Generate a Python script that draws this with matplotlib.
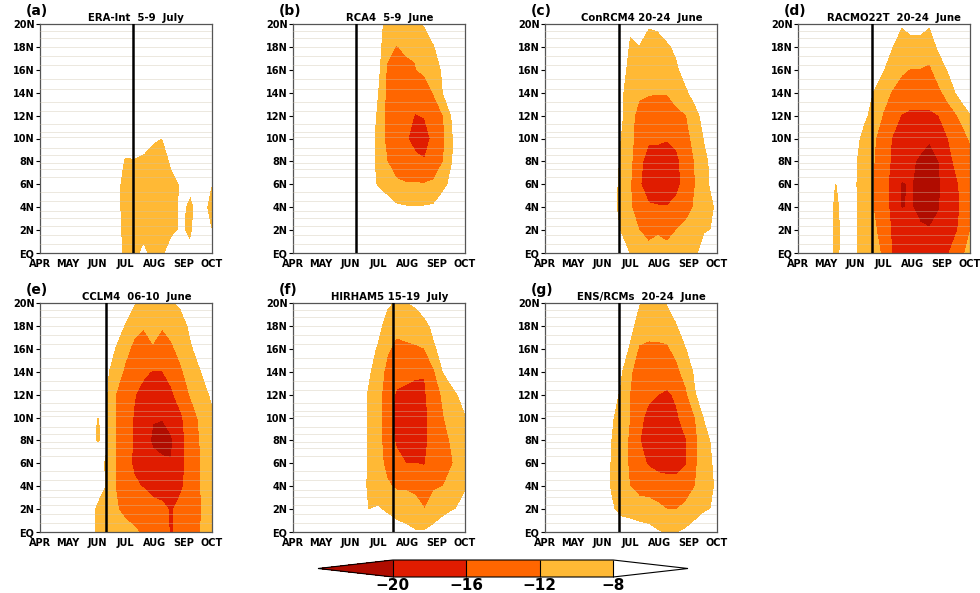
import numpy as np
import matplotlib
matplotlib.use("Agg")
import matplotlib.pyplot as plt
from matplotlib.colors import ListedColormap, BoundaryNorm

# grade: dias desde 1 de abril x latitude (20N -> EQ)
DIAS = [0, 30, 40, 50, 60, 70, 80, 90, 100, 110, 120, 130, 140, 150, 160, 170, 183]
LATS = [20, 18, 16, 14, 12, 10, 8, 6, 4, 2, 0]

meses = ["APR", "MAY", "JUN", "JUL", "AUG", "SEP", "OCT"]
dias_meses = [0, 30, 61, 91, 122, 153, 183]
lat_ticks = [0, 2, 4, 6, 8, 10, 12, 14, 16, 18, 20]
lat_labels = ["EQ", "2N", "4N", "6N", "8N", "10N", "12N", "14N", "16N", "18N", "20N"]

letras = ["(a)", "(b)", "(c)", "(d)", "(e)", "(f)", "(g)"]
titulos = ["ERA-Int  5-9  July", "RCA4  5-9  June", "ConRCM4 20-24  June",
           "RACMO22T  20-24  June", "CCLM4  06-10  June", "HIRHAM5 15-19  July",
           "ENS/RCMs  20-24  June"]
onset = [99, 67, 79, 79, 70, 106, 79]  # linha vertical (dia)

era_int = [
    [-2, -2, -2, -2, -2, -2, -3, -3, -3, -3, -3, -3, -3, -3, -3, -3, -3],
    [-2, -2, -2, -2, -2, -2, -3, -3, -3, -3, -3, -3, -3, -3, -3, -3, -3],
    [-2, -2, -2, -2, -2, -3, -3, -3, -3, -3, -3, -3, -3, -3, -3, -3, -3],
    [-2, -2, -2, -3, -3, -3, -3, -4, -4, -4, -4, -4, -4, -3, -3, -3, -3],
    [-2, -2, -3, -3, -3, -3, -4, -5, -5, -5, -6, -6, -5, -4, -4, -3, -3],
    [-3, -3, -3, -3, -3, -4, -4, -6, -6, -7, -7.6, -8.1, -6.5, -5, -4, -4, -4],
    [-3, -3, -3, -3, -4, -4, -5, -8.5, -8.3, -8.5, -9.5, -10, -7.5, -6, -5, -5, -5],
    [-3, -3, -3, -3, -4, -5, -6, -10, -10, -10, -10.5, -10.5, -9, -7.8, -7.5, -6, -8.1],
    [-3, -3, -3, -4, -4, -5, -6, -10, -11, -11, -11, -10, -9.5, -7.5, -8.6, -7, -8.8],
    [-3, -3, -3, -4, -4, -5, -6, -9.5, -10, -9, -10, -9.5, -8.5, -7.8, -8.4, -6.5, -8.1],
    [-3, -3, -3, -4, -4, -5, -5.5, -9, -9, -7.5, -9, -8.5, -7, -7.5, -7.6, -6, -6],
]
rca4 = [
    [-2, -2, -2, -2, -3, -3, -4, -7, -9, -9.5, -9.5, -9, -7.8, -6, -4, -3, -3],
    [-2, -2, -2, -3, -3, -3, -4, -6.5, -11, -12.2, -11.5, -11.8, -10, -8.3, -6, -4, -3],
    [-2, -2, -3, -3, -3, -4, -5, -7, -12.5, -13, -12.8, -12.1, -11.5, -9.5, -7.6, -5, -4],
    [-2, -2, -3, -3, -3, -4, -5, -8, -13, -13.5, -13.5, -14, -13.5, -11.8, -8, -6, -4],
    [-2, -3, -3, -3, -4, -4, -5, -8.8, -13, -14, -15, -16.2, -15.8, -14, -12, -7.5, -5],
    [-3, -3, -3, -3, -4, -4, -5.5, -9.5, -13, -14.5, -15.5, -17.5, -17.5, -15, -12.8, -8.2, -5],
    [-3, -3, -3, -3, -4, -4, -5.5, -9.5, -12, -13.5, -14.5, -15, -15.8, -14, -12, -8, -5],
    [-3, -3, -3, -3, -4, -4, -5.5, -8.5, -10, -11.5, -11.8, -11.8, -11.8, -11.5, -9, -7, -5],
    [-3, -3, -3, -3, -3, -4, -4, -5, -6, -7.5, -7.8, -7.8, -7.8, -7.5, -6, -5, -4],
    [-2, -2, -3, -3, -3, -3, -4, -4, -5, -5, -5, -5, -5, -5, -4, -4, -3],
    [-2, -2, -2, -3, -3, -3, -3, -4, -4, -4, -4, -4, -4, -4, -3, -3, -3],
]
conrcm4 = [
    [-2, -2, -2, -3, -3, -3, -4, -7.5, -6.5, -7.8, -7.6, -6.5, -5, -4, -3, -3, -3],
    [-2, -2, -3, -3, -3, -4, -5, -8.5, -8.2, -9, -9, -8.5, -7.5, -6, -4, -3, -3],
    [-2, -2, -3, -3, -3, -4, -6, -9.5, -10, -10.5, -10.5, -10, -8.5, -7, -5.5, -4, -3],
    [-2, -3, -3, -3, -4, -4, -6.5, -11.8, -11.5, -11.8, -11.9, -11.9, -10.5, -8.5, -7, -6, -4],
    [-3, -3, -3, -3, -4, -5, -7, -11, -13, -13.5, -13.5, -13.5, -13, -12.2, -9, -7, -5.5],
    [-3, -3, -3, -4, -4, -5.5, -8, -11, -13.5, -15.5, -15.5, -15.8, -15, -13, -11, -7.8, -6],
    [-3, -3, -3, -4, -4, -6, -8.5, -11, -15, -17.5, -17.5, -18, -17, -14, -11.8, -9, -6],
    [-3, -3, -3, -4, -4, -6, -9, -11.5, -15.5, -18, -18, -18, -17, -14.5, -12, -9, -6.5],
    [-3, -3, -3, -4, -4, -6.5, -9, -11.5, -14, -15.5, -15.8, -15.9, -15, -13.5, -11.5, -10, -7.5],
    [-3, -3, -3, -4, -4, -6.5, -8.2, -10.5, -12, -13, -12.5, -13, -12, -11, -10, -8.2, -7.8],
    [-3, -3, -3, -3, -4, -5, -6, -8.2, -9.5, -11, -10.5, -11, -10, -9, -8.5, -7, -6],
]
racmo22t = [
    [-2, -2, -2, -3, -3, -3, -4, -5, -6.5, -7.8, -7.2, -7, -7.8, -6, -5, -4, -3],
    [-2, -2, -3, -3, -3, -4, -5, -6.5, -8, -9.5, -9, -9.2, -10, -7.5, -6, -5, -4],
    [-2, -3, -3, -3, -4, -5, -6, -7.8, -10, -11.5, -12.2, -12.2, -12.8, -10, -7.8, -6, -5],
    [-3, -3, -3, -4, -4, -6, -8.3, -10.5, -12.3, -13.5, -14, -14, -14, -13, -10.5, -7.5, -6],
    [-3, -3, -4, -4, -5.5, -7.5, -9, -12.2, -14, -16.2, -16.8, -16.8, -16.8, -16, -14, -12, -8.3],
    [-3, -3, -4, -5, -7, -9, -11.5, -13.5, -16.2, -17.5, -18, -19, -19.8, -18, -16, -13.5, -11.8],
    [-3, -4, -5, -5, -7.5, -10, -11.8, -14, -16.5, -18.5, -19.5, -20.5, -21, -20, -17, -15, -13],
    [-3, -5, -8.4, -6, -7.5, -10.5, -12, -14.5, -17, -20.3, -19.8, -21, -21.5, -20.5, -17.5, -16.2, -13.5],
    [-3, -5, -9.5, -6, -7.5, -10, -12, -14, -17, -20.2, -19.7, -21, -21.5, -20.2, -17.5, -16.5, -13.5],
    [-3, -5, -9.5, -6.5, -7.5, -10, -11.5, -13, -16.5, -18, -19, -19.5, -19.8, -19, -17, -16, -12.2],
    [-3, -5, -9.3, -6.5, -7.5, -9.5, -10.5, -12.5, -16.2, -17, -16.5, -17, -17.5, -16.5, -16.2, -14, -10.5],
]
cclm4 = [
    [-2, -2, -2, -3, -3, -4, -4, -6, -7.8, -8.5, -8.5, -8.5, -8.3, -7.5, -5.5, -4, -3],
    [-2, -2, -3, -3, -3, -4, -6.5, -8.2, -11, -11.8, -11, -11.8, -11, -9.5, -7.5, -6, -4],
    [-2, -3, -3, -3, -4, -6, -8.2, -11, -12.8, -13.5, -12.3, -13.5, -12.5, -11, -8.5, -7, -6],
    [-3, -3, -3, -4, -5, -7.3, -10, -12.5, -14, -15.5, -16.2, -16.1, -15, -12.5, -10.5, -8.3, -6.5],
    [-3, -3, -4, -4, -5.5, -7.5, -12, -14, -15.8, -17, -18, -18, -16.5, -14.5, -11.8, -10, -7.5],
    [-3, -3, -4, -5, -8.1, -7.8, -12, -14.5, -16.2, -18, -19.8, -19.9, -19, -16.5, -14, -11.5, -9],
    [-3, -3, -4, -5, -8.2, -7.8, -12, -14.5, -16.3, -18.5, -20.5, -21, -20.3, -17, -14.5, -12, -9.5],
    [-3, -3, -4, -5, -7, -8.3, -12, -14.5, -16.5, -18, -19, -19.5, -19.9, -17, -14.5, -12.2, -9.5],
    [-3, -3, -4, -5, -6.5, -8.2, -12, -14, -15.5, -16.2, -17, -17, -17.5, -16.5, -14.5, -12.2, -9.5],
    [-3, -3, -4, -6, -8.5, -9, -11.5, -13, -13.5, -14, -15, -15.5, -16.3, -15, -13.5, -12.5, -9],
    [-3, -3, -4, -6, -8.5, -8.5, -9.5, -10.5, -11.5, -12.5, -13, -14.5, -16.5, -14, -12.5, -12.2, -9],
]
hirham5 = [
    [-2, -2, -2, -3, -3, -3, -4, -6, -7.5, -8.5, -8.2, -7.6, -6.5, -5, -4, -3, -3],
    [-2, -2, -3, -3, -3, -4, -5.5, -7, -9.5, -11, -11, -10, -9, -7.3, -6, -4, -3],
    [-2, -2, -3, -3, -4, -5, -6.5, -8.5, -11.5, -13, -12.5, -12.5, -12.1, -8.5, -7, -5, -4],
    [-2, -3, -3, -3, -4, -5.5, -7.5, -10, -13, -14.5, -15, -15.5, -15.8, -12.5, -8, -6.5, -5],
    [-3, -3, -3, -4, -4, -6, -8.5, -10.5, -14, -16.5, -16.8, -17, -16.5, -13.5, -11.5, -8.8, -7],
    [-3, -3, -3, -4, -4, -6, -8.5, -10.5, -14.5, -17, -17.5, -17.5, -17, -14, -12.2, -10, -8.3],
    [-3, -3, -3, -4, -4, -6, -8.5, -10.5, -14, -16.5, -17, -17, -17, -14, -13, -11.5, -8.5],
    [-3, -3, -3, -4, -4, -6, -8.5, -10.5, -13, -15, -16, -16, -16.2, -13.5, -12.5, -12.1, -8.8],
    [-3, -3, -3, -4, -4, -6.5, -8.5, -9.5, -11.5, -12.5, -12.5, -13, -14, -12.5, -12, -10, -8.2],
    [-3, -3, -3, -4, -4, -6, -8.1, -7.8, -8.5, -9.5, -10, -10.5, -12, -10, -9, -8.2, -7.5],
    [-2, -3, -3, -3, -4, -5, -5, -5.5, -6, -6.5, -7, -7.8, -7.8, -7, -6, -5, -5],
]
ens_rcms = [
    [-2, -2, -2, -3, -3, -3, -4, -6, -7.9, -8.5, -7.9, -7.9, -6.5, -5, -4, -3, -3],
    [-2, -2, -3, -3, -3, -4, -5.5, -7, -9.5, -10.5, -10.3, -10.3, -8.3, -6.5, -5, -4, -3],
    [-2, -3, -3, -3, -4, -5, -6, -8.5, -12.5, -12.8, -12.8, -12.5, -11, -8.2, -6.5, -5, -4],
    [-2, -3, -3, -4, -4, -6, -7.5, -11.5, -13.5, -14, -14.5, -14.5, -13, -10.5, -7.5, -6, -5],
    [-3, -3, -3, -4, -5, -6.5, -8.5, -12, -14, -15.3, -16, -16.5, -15.5, -12.8, -8.3, -6.5, -5],
    [-3, -3, -4, -4, -5.5, -7.5, -9.5, -12, -15, -17, -17.5, -17.5, -16.5, -14.5, -12, -7.8, -6],
    [-3, -3, -4, -4, -6, -8, -10, -12.5, -15.8, -17.5, -18, -18, -17.5, -16.2, -12.8, -9.5, -6.5],
    [-3, -3, -4, -4, -6, -8.2, -10, -12.5, -15, -16.3, -17, -17, -17, -16.2, -12.5, -10, -7],
    [-3, -3, -4, -4, -6, -8.3, -10, -12, -13.5, -14, -14.5, -15, -15, -14, -12, -10, -7.5],
    [-3, -3, -3, -4, -5.5, -7.5, -9, -9.5, -10, -10, -11, -12.1, -12.1, -11, -10, -8.5, -7.5],
    [-2, -3, -3, -3, -4, -5, -6, -6, -6.5, -7, -7.8, -8.5, -8.2, -7.5, -6, -5, -5],
]
campos = [era_int, rca4, conrcm4, racmo22t, cclm4, hirham5, ens_rcms]

niveis = [-20, -16, -12, -8]
cmap = ListedColormap(["#e01c00", "#ff6600", "#ffb935"])
cmap.set_under("#b00c00")
cmap.set_over("white")
norm = BoundaryNorm(niveis, cmap.N)

# linhas horizontais claras da grade original
linhas_lat = [0.8, 1.6, 2.4, 3.1, 3.7, 4.5, 5.3, 6.6, 7.3, 7.9, 8.6, 9.2, 10.1, 10.6,
              11.3, 12.4, 13.2, 14.3, 15.2, 16.4, 17.2, 18.0, 18.8, 19.4]

fig = plt.figure(figsize=(9.8, 5.93), dpi=100)
W, H = 980, 593
posicoes = [(40, 24), (293, 24), (545, 24), (798, 24), (40, 303), (293, 303), (545, 303)]
largura, altura = 172, 229

for i in range(7):
    x0, y0 = posicoes[i]
    ax = fig.add_axes([x0 / W, 1 - (y0 + altura) / H, largura / W, altura / H])
    cs = ax.contourf(DIAS, LATS, np.array(campos[i]), levels=niveis, cmap=cmap,
                     norm=norm, extend="both")
    for lt in linhas_lat:
        ax.axhline(lt, color="#cfc4ad", lw=0.6, alpha=0.45, zorder=3)
    ax.axvline(onset[i], color="black", lw=1.8, zorder=4)
    ax.set_xlim(0, 183)
    ax.set_ylim(0, 20)
    ax.set_xticks(dias_meses)
    ax.set_xticklabels(meses, fontsize=7, fontweight="bold")
    ax.set_yticks(lat_ticks)
    ax.set_yticklabels(lat_labels, fontsize=7, fontweight="bold")
    ax.tick_params(axis="y", length=3, width=0.8, pad=1)
    ax.tick_params(axis="x", length=0, pad=4)
    for s in ax.spines.values():
        s.set_color("#555555")
        s.set_linewidth(0.9)
    ax.text(-0.08, 1.025, letras[i], transform=ax.transAxes, fontsize=10,
            fontweight="bold", va="bottom", ha="left")
    ax.text(0.56, 1.006, titulos[i], transform=ax.transAxes, fontsize=7.3,
            fontweight="bold", va="bottom", ha="center")

# barra de cores (eixo inclui os triangulos)
cax = fig.add_axes([318 / W, 1 - 577 / H, 370 / W, 17 / H])
cb = fig.colorbar(cs, cax=cax, orientation="horizontal", extend="both",
                  extendfrac=0.34, drawedges=True)
cb.set_ticks(niveis)
cb.set_ticklabels(["\u221220", "\u221216", "\u221212", "\u22128"])
cb.ax.tick_params(length=0, labelsize=11, pad=1)
for lb in cb.ax.get_xticklabels():
    lb.set_fontweight("bold")
cb.outline.set_linewidth(0.8)
cb.dividers.set_linewidth(0.8)

plt.savefig("out.png", dpi=100)
